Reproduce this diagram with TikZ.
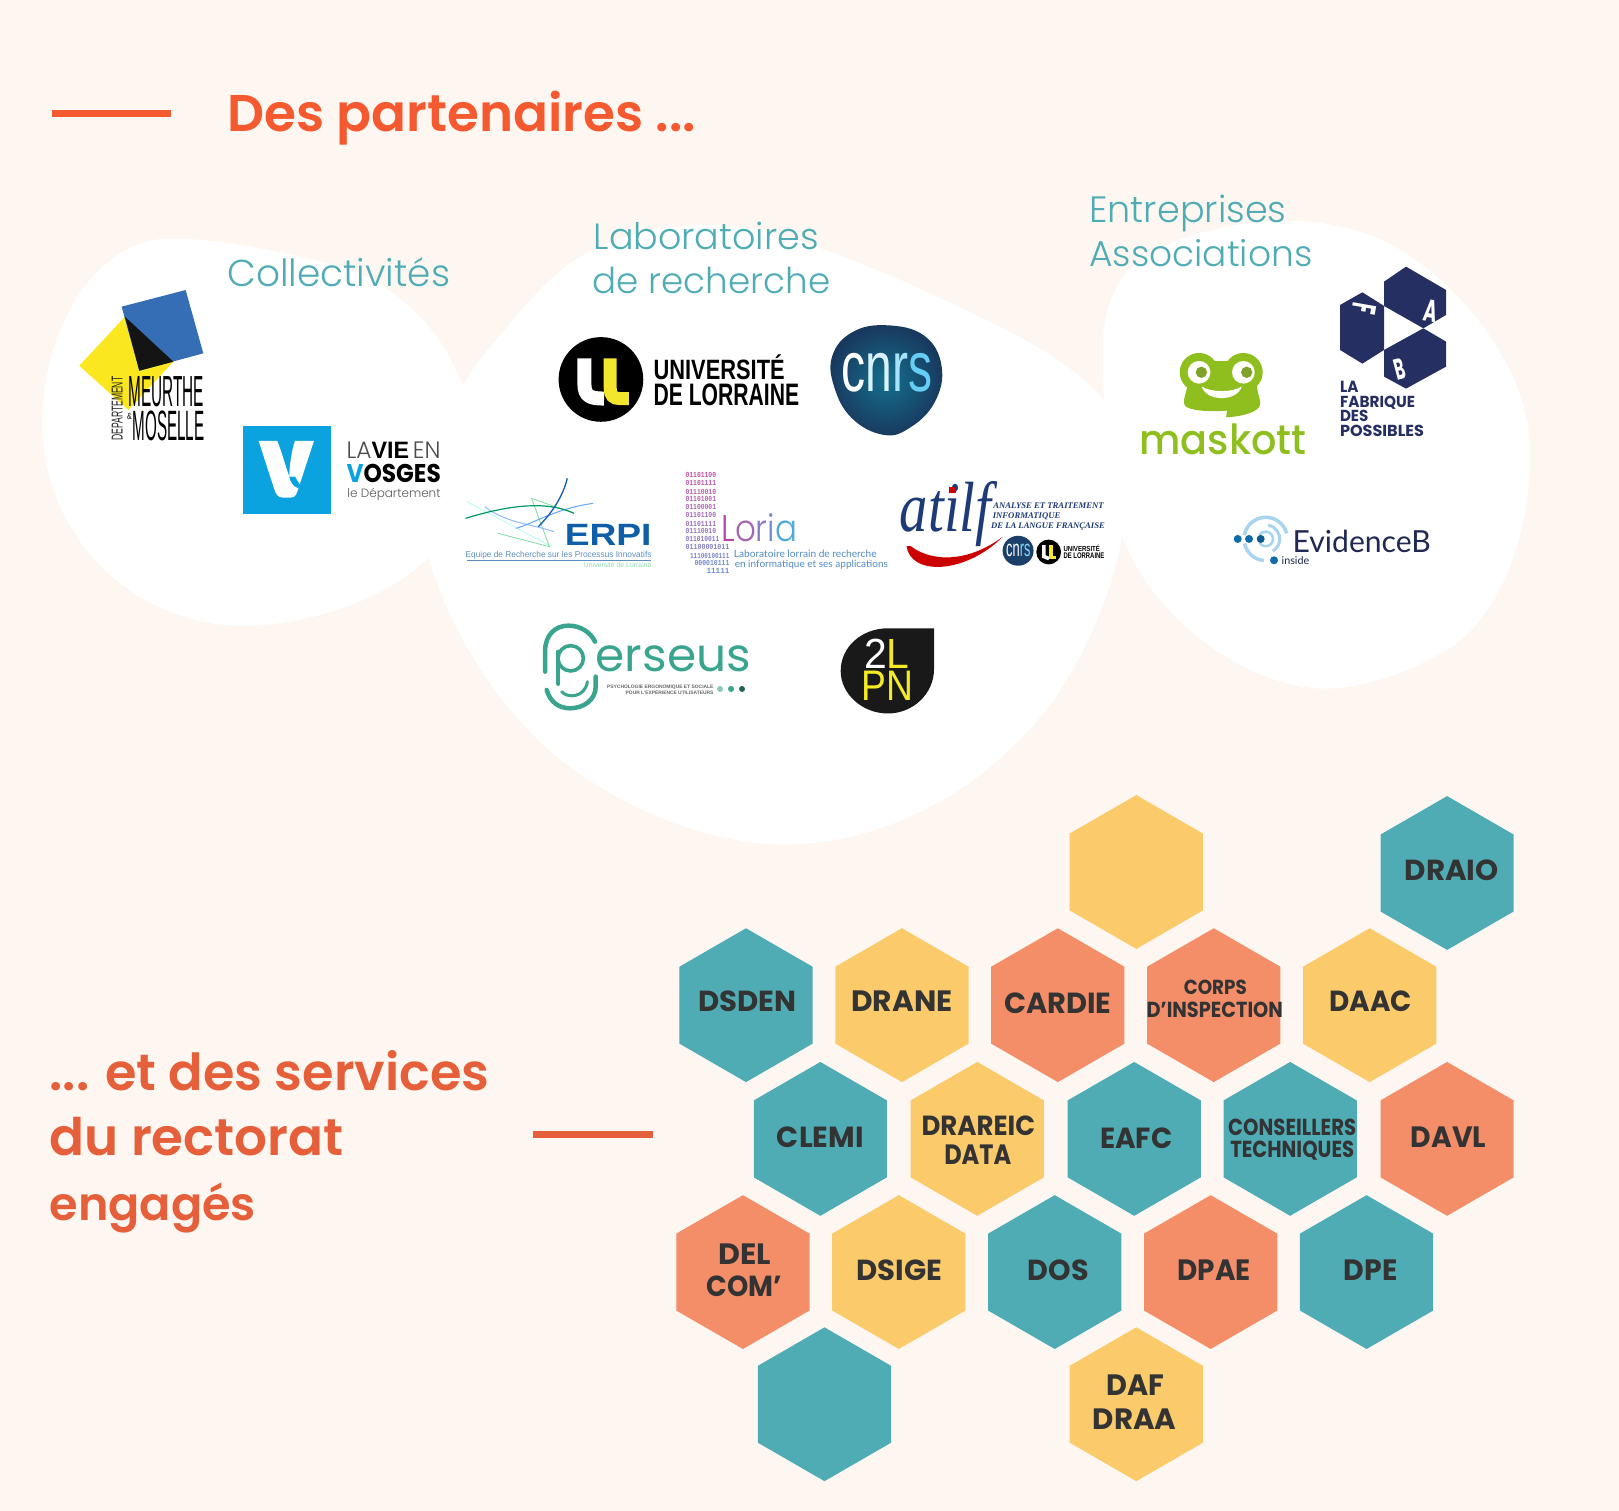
\documentclass[tikz,border=0pt]{standalone}
\usepackage{fontspec}
\usepackage{graphicx}
\setmainfont{Poppins}
\newfontfamily\plight{Poppins Light}
\newfontfamily\psemi{Poppins SemiBold}
\newfontfamily\pmed{Poppins Medium}
\newfontfamily\lib{Liberation Sans}
\newfontfamily\libserif{Liberation Serif}
\newfontfamily\libmono{Liberation Mono}
\newfontfamily\lato{Lato}
\definecolor{bgc}{HTML}{FEF7F1}
\definecolor{titlec}{HTML}{F4592F}
\definecolor{titled}{HTML}{E5603A}
\definecolor{tealc}{HTML}{4FACB5}
\definecolor{yelc}{HTML}{FBCB6B}
\definecolor{orac}{HTML}{F48E69}
\definecolor{darkc}{HTML}{333333}
\definecolor{labelc}{HTML}{4FACB5}
\definecolor{navyf}{HTML}{262F62}
\definecolor{maskg}{HTML}{8FBF1F}
\definecolor{maskd}{HTML}{7FA32A}
\definecolor{perc}{HTML}{3AA58F}
\definecolor{lorp}{HTML}{C5509F}
\definecolor{lorb}{HTML}{5A9AD8}
\definecolor{cnrsb}{HTML}{1B3F68}
\definecolor{ulyel}{HTML}{F2E62E}
\definecolor{vblue}{HTML}{0AA3E0}
\definecolor{atnavy}{HTML}{1E3A78}
\definecolor{evid}{HTML}{0E6CA8}
\definecolor{evlight}{HTML}{A8D4F0}
\definecolor{mmblue}{HTML}{356EB5}
\definecolor{mmyel}{HTML}{FBE720}
\definecolor{erpib}{HTML}{0F5FA8}
\definecolor{erpil}{HTML}{5B8FC4}
\newdimen\U \U=1.03253pt
% text fitted exactly in a box: name, x0, ytop, x1, baseline, colour, text
\newcommand\T[7]{\pgfmathsetmacro\Tw{#4-#2}\pgfmathsetmacro\Th{#5-#3}%
  \node[anchor=base west,inner sep=0pt,outer sep=0pt,text=#6] (#1) at (#2,#5) {\resizebox{\Tw\U}{\Th\U}{#7}};}
% text scaled uniformly to a width: name, x0, baseline, x1, colour, text
\newcommand\Tu[6]{\pgfmathsetmacro\Tw{#4-#2}%
  \node[anchor=base west,inner sep=0pt,outer sep=0pt,text=#5] (#1) at (#2,#3) {\resizebox{\Tw\U}{!}{#6}};}
\newcommand\Hx[3]{\fill[#3] (#1,#2-74.5)--(#1+64.5,#2-37.25)--(#1+64.5,#2+37.25)--(#1,#2+74.5)--(#1-64.5,#2+37.25)--(#1-64.5,#2-37.25)--cycle;}
\tikzset{
  hexteal/.style={fill=tealc}, hexyel/.style={fill=yelc}, hexora/.style={fill=orac},
  blob/.style={fill=white},
  rule/.style={draw=titled,line width=7pt},
}
\begin{document}
\begin{tikzpicture}[x=1.03253pt,y=-1.03253pt]
\useasboundingbox (0,0) rectangle (1568,1463.4);
\fill[bgc] (0,0) rectangle (1568,1463.4);
% blobs
\fill[blob] (165,231) .. controls (215,231) and (280,245) .. (330,258) .. controls (385,275) and (435,325) .. (452,385) .. controls (460,440) and (445,510) .. (415,540) .. controls (375,580) and (300,606) .. (235,606) .. controls (130,606) and (41,520) .. (41,410) .. controls (41,315) and (95,231) .. (165,231) -- cycle;
\fill[blob] (1071.8,390.6) .. controls (1085,430) and (1090,480) .. (1086,523) .. controls (1080,560) and (1060,620) .. (1020.4,678) .. controls (1000,705) and (985,720) .. (968.5,734) .. controls (920,780) and (840,818) .. (760,818) .. controls (690,818) and (600,785) .. (531,726) .. controls (480,680) and (435,610) .. (415,540) .. controls (405,490) and (425,420) .. (447,374) .. controls (460,355) and (470,340) .. (481,329) .. controls (505,300) and (525,275) .. (552,255) .. controls (575,240) and (595,232) .. (617,226) .. controls (640,220) and (665,218) .. (687.7,218) .. controls (725,219) and (760,226) .. (791,239) .. controls (820,250) and (845,260) .. (871.7,271) .. controls (905,286) and (935,300) .. (968.5,316.4) .. controls (1005,335) and (1045,358) .. (1071.8,390.6) -- cycle;
\fill[blob] (1243,213.7) .. controls (1280,214) and (1305,219) .. (1330,229) .. controls (1395,255) and (1482,345) .. (1482,439) .. controls (1482,530) and (1445,605) .. (1400.7,629.5) .. controls (1365,652) and (1320,667) .. (1280,667) .. controls (1215,665) and (1125,610) .. (1087.7,523) .. controls (1075,470) and (1068,400) .. (1068,339) .. controls (1068,300) and (1080,270) .. (1104,251.8) .. controls (1130,232) and (1190,214) .. (1243,213.7) -- cycle;
% titles
\coordinate (r1a) at (50,110); \coordinate (r1b) at (166,110);
\draw[rule,draw=titlec] (r1a) -- (r1b);
\coordinate (r2a) at (516,1098.5); \coordinate (r2b) at (632,1098.5);
\draw[rule] (r2a) -- (r2b);
\Tu{t1}{220}{127.5}{674}{titlec}{\psemi Des partenaires ...}
\Tu{t2}{48}{1056}{474}{titled}{\psemi ... et des services}
\Tu{t3}{48}{1119}{333}{titled}{\psemi du rectorat}
\Tu{t4}{48}{1182}{248}{titled}{\psemi engagés}
% category labels
\Tu{c1}{220}{277.3}{436}{labelc}{\plight Collectivités}
\Tu{c2}{575}{241.3}{793}{labelc}{\plight Laboratoires}
\Tu{c3}{574}{284.3}{804}{labelc}{\plight de recherche}
\Tu{c4}{1055}{215.3}{1246}{labelc}{\plight Entreprises}
\Tu{c5}{1055}{258.3}{1271}{labelc}{\plight Associations}
% Meurthe et Moselle
\fill[mmyel] (121,306.7)--(76.8,354.2)--(124.3,397.1)--(167.9,350.3)--cycle;
\fill[mmblue] (117.8,297)--(179.8,280.9)--(196.9,342.2)--(134.9,359)--cycle;
\fill[black!92] (121,306.7)--(134.9,359)--(167.9,350.3)--cycle;
\T{mm1}{124.3}{365}{197.5}{394}{black}{\lib MEURTHE}
\T{mm2}{128.5}{398.3}{198}{427}{black}{\lib MOSELLE}
\T{mm3}{123}{400}{127.5}{406}{black}{\lib \&}
\node[anchor=base west,inner sep=0pt,rotate=90,text=black!85] (mm4) at (118.8,427) {\resizebox{62\U}{10.5\U}{\lib DEPARTEMENT}};
% Vosges
\fill[vblue] (235,412.2) rectangle (320.2,497.8);
\begin{scope}[scale=0.3228,shift={(0,540)}]
\fill[white] (776,783)--(832,783) .. controls (850,830) and (860,870) .. (868,890) .. controls (868,860) and (875,810) .. (885,783)--(942,783)--(892,935) .. controls (888,948) and (882,953) .. (870,953)--(850,953) .. controls (835,953) and (828,945) .. (822,925)--cycle;
\fill[vblue] (868,890) .. controls (870,905) and (880,920) .. (895,925)--(900,915)--(885,890)--cycle;
\end{scope}
\T{vg1}{335.7}{427.7}{426.7}{443.8}{black}{\lib{\plight\color{black!70}LA}{\bfseries VIE}\,{\plight\color{black!70}EN}}
\T{vg2}{335.7}{449.3}{427}{467}{black}{\bfseries\textcolor{vblue}{V}OSGES}
\Tu{vg3}{336.4}{481.9}{426.7}{black!65}{\plight le Département}
% Universite de Lorraine
\fill[black] (582,367.5) ellipse (41 and 41);
\draw[white,line width=14pt] (566,347) -- (566,372) .. controls (566,384) and (572,386) .. (585,386);
\draw[ulyel,line width=13pt] (591,347) -- (591,376) .. controls (591,383) and (594,386) .. (600,386) -- (609,386);
\T{ul1}{633}{344}{760}{368}{black}{\lib\bfseries UNIVERSITÉ}
\T{ul2}{633}{372}{774}{393}{black}{\lib\bfseries DE LORRAINE}
% CNRS
\shade[inner color=cnrsb!75!cyan,outer color=cnrsb!90!black] plot[smooth cycle,tension=0.7] coordinates {(858,315)(895,325)(912,355)(905,390)(880,415)(855,421)(825,405)(808,375)(806,345)(825,322)};
\T{cnrs}{815}{342}{903}{379}{white}{\lib c\textcolor{cyan!15}{n}\textcolor{cyan!35}{r}\textcolor{cyan!60}{s}}
% ERPI
\begin{scope}[shift={(426.2,290.6)},x=0.4464pt,y=-0.3333pt]
\draw[green!25!cyan!30,line width=0.8pt] (60,605) -- (250,740);
\draw[green!45!teal!50,line width=0.8pt] (205,595) -- (245,740) -- (130,700)  ;
\draw[green!45!teal!50,line width=0.8pt] (205,595) -- (300,640);
\draw[blue!60!cyan!45,line width=1pt] (100,620) .. controls (150,670) and (200,670) .. (255,695);
\draw[blue!60!cyan!60,line width=1pt] (343,610) .. controls (260,625) and (210,670) .. (170,685);
\draw[teal!80!green,line width=1.2pt] (57,655) .. controls (130,625) and (230,595) .. (300,640);
\draw[erpib,line width=1.3pt] (285,535) .. controls (275,590) and (250,640) .. (220,680);
\draw[erpil,line width=1pt] (60,780) -- (472,780);
\end{scope}
\T{erpi1}{547}{507.5}{631}{528}{erpib}{\lib\bfseries ERPI}
\T{erpi2}{451}{534}{631}{540}{erpil}{\lib Equipe de Recherche sur les Processus Innovatifs}
\Tu{erpi3}{565.5}{550}{631}{green!40!teal!45}{\lib Université de Lorraine}
% Loria
\foreach \i/\yy/\xa/\xb/\pct/\s in {1/460.4/664/693.5/100/01101100,2/468/664/693.5/93/01101111,3/476/664/693.5/86/01110010,4/483.6/664/693.5/79/01101001,5/491.4/664/693.5/72/01100001,6/499/664/693.5/65/01101100,7/507/664/693.5/58/01101111,8/514.6/664/693.5/51/01110010,9/522.4/664/696.6/44/011010011,10/530/664/706.4/37/01100001011,11/538/668.4/706.4/30/11100100111,12/545.6/672.7/706.4/23/000010111,13/553/684.3/706.4/16/11111}{
  \pgfmathsetmacro\ya{\yy-2.5}\pgfmathsetmacro\yb{\yy+2.5}
  \T{bit\i}{\xa}{\ya}{\xb}{\yb}{lorp!\pct!lorb}{\libmono\bfseries\s}
}
\T{loria}{698.6}{497}{772}{524}{black}{\plight\textcolor{lorp!90!blue}{L}\textcolor{lorp!70!lorb}{o}\textcolor{lorp!45!lorb}{r}\textcolor{lorp!20!lorb}{i}\textcolor{lorb!85!cyan}{a}}
\Tu{lor1}{710.7}{539.8}{849}{lorb!90!black}{\lato Laboratoire lorrain de recherche}
\Tu{lor2}{711.6}{549.5}{860}{lorb!90!black}{\lato en informatique et ses applications}
% ATILF
\T{atilf}{871.6}{466.5}{960}{515}{atnavy}{\libserif\itshape atilf}
\fill[red!80!black] (919.5,471.5) rectangle (926,477.5);
\fill[red!80!black] (878,529) .. controls (882,558) and (935,556) .. (971,520) .. controls (940,543) and (905,546) .. (882,529) -- cycle;
\Tu{at1}{962}{492.4}{1069}{atnavy}{\libserif\itshape\bfseries ANALYSE ET TRAITEMENT}
\Tu{at2}{961.5}{502}{1027}{atnavy}{\libserif\itshape\bfseries INFORMATIQUE}
\Tu{at3}{960}{511.4}{1070}{atnavy}{\libserif\itshape\bfseries DE LA LANGUE FRANÇAISE}
\fill[cnrsb] (986,533.4) ellipse (15 and 14.5);
\T{at4}{974.5}{527}{998}{539}{white}{\lib cn\textcolor{cyan!50}{rs}}
\fill[black] (1015.6,534.6) ellipse (12 and 12);
\draw[white,line width=3.6pt] (1011,528) -- (1011,539) -- (1016,541);
\draw[ulyel,line width=3.6pt] (1018,528) -- (1018,540) -- (1023,540);
\T{at5}{1030}{528}{1065.3}{534.3}{black}{\lib\bfseries UNIVERSITÉ}
\T{at6}{1030}{535.5}{1069.6}{541}{black}{\lib\bfseries DE LORRAINE}
% Perseus
\begin{scope}[shift={(484.3,561.7)},scale=0.3228]
\draw[perc,line width=4.5pt,line cap=round] (135,275) -- (135,215) .. controls (135,165) and (165,137) .. (205,137) .. controls (240,137) and (270,155) .. (285,185);
\draw[perc,line width=4.5pt,line cap=round] (287,290) -- (287,320) .. controls (287,360) and (250,385) .. (210,385) .. controls (175,385) and (150,365) .. (140,330);
\draw[perc,line width=3pt,line cap=round] (185,335) .. controls (200,355) and (255,355) .. (262,305);
\draw[perc,line width=4pt,line cap=round] (175,215) -- (175,312);
\draw[perc,line width=3.6pt] (212,235) circle (38);
\fill[perc!60] (660,327) circle (9);
\fill[perc] (693,327) circle (9);
\fill[perc!60!black] (726,327) circle (9);
\end{scope}
\T{per1}{577}{625}{727.4}{650}{perc}{erseus}
\Tu{per2}{588}{667}{691}{black!60}{\lib\bfseries PSYCHOLOGIE ERGONOMIQUE ET SOCIALE}
\Tu{per3}{606}{672.5}{691}{black!60}{\lib\bfseries POUR L’EXPÉRIENCE UTILISATEURS}
% 2LPN
\fill[black!90] (904.6,608.5) -- (904.6,648) .. controls (904.6,672) and (884,691) .. (860,691) .. controls (835,691) and (814.2,672) .. (814.2,650) .. controls (814.2,626) and (835,608.5) .. (860,608.5) -- cycle;
\T{lp1}{837}{619}{881}{647.5}{ulyel!80!yellow}{\lib\textcolor{white}{2}L}
\T{lp2}{834.5}{650}{884.6}{678.5}{ulyel!80!yellow}{\lib PN}
% Maskott
\begin{scope}[shift={(1065.4,242.1)},scale=0.3228]
\fill[maskg] (297,367) circle (58);
\fill[maskg] (430,367) circle (58);
\fill[maskg] (297,332) rectangle (430,420);
\fill[maskg] (262,400) -- (470,400) .. controls (472,440) and (487,455) .. (478,470) .. controls (465,490) and (420,500) .. (378,502) -- (381,482) .. controls (340,485) and (290,485) .. (260,472) .. controls (240,458) and (262,430) .. (262,400) -- cycle;
\fill[white] (297,367) circle (34); \fill[white] (430,367) circle (34);
\fill[maskd] (304,367) circle (17); \fill[maskd] (440,367) circle (17);
\fill[white] (305,410) .. controls (335,428) and (395,428) .. (425,410) .. controls (410,456) and (320,456) .. (305,410) -- cycle;
\end{scope}
\T{mask}{1103.5}{410}{1265}{439.7}{maskg}{\pmed maskott}
% Fabrique des possibles
\begin{scope}[shift={(1065.4,242.1)},scale=0.3228]
\fill[navyf] (852,95)--(918,50)--(1038,120)--(1038,195)--(970,235)--(852,168)--cycle;
\fill[navyf] (720,165)--(787,127)--(852,168)--(852,300)--(787,341)--(720,300)--cycle;
\fill[navyf] (852,300)--(970,235)--(1038,275)--(1038,350)--(918,416)--(852,380)--cycle;
\end{scope}
\node[text=white,inner sep=0pt,rotate=-100] (fabf) at (1321,298.5) {\resizebox{10\U}{23\U}{\bfseries F}};
\node[text=white,inner sep=0pt,rotate=-10] (faba) at (1385.5,301) {\resizebox{13\U}{21\U}{\bfseries A}};
\node[text=white,inner sep=0pt,rotate=15] (fabb) at (1356,358) {\resizebox{10\U}{20\U}{\bfseries B}};
\T{fab1}{1297.8}{369}{1315.6}{380}{navyf}{\bfseries LA}
\T{fab2}{1297.8}{383.5}{1370.5}{394.5}{navyf}{\bfseries FABRIQUE}
\T{fab3}{1297.8}{397.7}{1325.3}{408.7}{navyf}{\bfseries DES}
\T{fab4}{1297.8}{412.2}{1379.2}{423.2}{navyf}{\bfseries POSSIBLES}
% EvidenceB
\begin{scope}[shift={(1065.4,242.1)},scale=0.3228]
\draw[evlight,line width=3.5pt] ([shift={(-170:65)}]497,867) arc[start angle=-170,end angle=-15,radius=65];
\draw[evlight,line width=3.5pt] ([shift={(95:65)}]497,867) arc[start angle=95,end angle=168,radius=65];
\draw[evlight,line width=3pt] ([shift={(-80:42)}]497,867) arc[start angle=-80,end angle=60,radius=42];
\draw[evlight,line width=2.5pt] ([shift={(-150:22)}]497,867) arc[start angle=-150,end angle=150,radius=22];
\fill[evid] (413,867) circle (12);
\fill[evid] (447,867) circle (12);
\fill[evid!85!black] (482,867) circle (12);
\fill[evid] (522,931) circle (12);
\end{scope}
\T{ev1}{1252}{513.3}{1385.6}{535}{navyf!85!black}{\lato EvidenceB}
\Tu{ev2}{1241.3}{547}{1268}{navyf!85!black}{\lato inside}
% hexagons
\begin{scope}[shift={(0,0.5)}]
\Hx{1100.5}{844}{hexyel}
\Hx{1401.5}{845}{hexteal}
\Hx{722.5}{973}{hexteal}
\Hx{873.5}{973}{hexyel}
\Hx{1024.5}{973}{hexora}
\Hx{1175.5}{973}{hexora}
\Hx{1326.5}{973}{hexyel}
\Hx{794.5}{1102.5}{hexteal}
\Hx{946.5}{1102.5}{hexyel}
\Hx{1098.5}{1102.5}{hexteal}
\Hx{1249.5}{1102.5}{hexteal}
\Hx{1401.5}{1102.5}{hexora}
\Hx{719.5}{1231.5}{hexora}
\Hx{870.5}{1231.5}{hexyel}
\Hx{1021.5}{1231.5}{hexteal}
\Hx{1172.5}{1231.5}{hexora}
\Hx{1323.5}{1231.5}{hexteal}
\Hx{798.5}{1359.5}{hexteal}
\Hx{1100.5}{1359.5}{hexyel}
\end{scope}
% hexagon labels
\begin{scope}[shift={(0.5,1)}]
\T{draio}{1360}{832}{1451}{852}{darkc}{\bfseries DRAIO}
\T{dsden}{676}{959}{771}{979}{darkc}{\bfseries DSDEN}
\T{drane}{824}{959}{922}{979}{darkc}{\bfseries DRANE}
\T{cardie}{972}{961}{1076}{981}{darkc}{\bfseries CARDIE}
\T{corps}{1146}{948}{1207}{962}{darkc}{\bfseries CORPS}
\T{dinsp}{1110}{969}{1242}{984}{darkc}{\bfseries D’INSPECTION}
\T{daac}{1287}{959}{1367}{979}{darkc}{\bfseries DAAC}
\T{clemi}{752}{1090}{836}{1110}{darkc}{\bfseries CLEMI}
\T{drareic}{892}{1080}{1002}{1099}{darkc}{\bfseries DRAREIC}
\T{data}{914}{1108}{979}{1127}{darkc}{\bfseries DATA}
\T{eafc}{1065}{1091}{1135}{1111}{darkc}{\bfseries EAFC}
\T{conseil}{1189}{1083}{1313}{1099}{darkc}{\bfseries CONSEILLERS}
\T{techn}{1191}{1104}{1311}{1120}{darkc}{\bfseries TECHNIQUES}
\T{davl}{1366}{1090}{1439}{1110}{darkc}{\bfseries DAVL}
\T{del}{695}{1204}{746}{1224}{darkc}{\bfseries DEL}
\T{com}{684}{1235}{757}{1255}{darkc}{\bfseries COM’}
\T{dsige}{829}{1219}{912}{1239}{darkc}{\bfseries DSIGE}
\T{dos}{995}{1219}{1054}{1239}{darkc}{\bfseries DOS}
\T{dpae}{1140}{1219}{1211}{1239}{darkc}{\bfseries DPAE}
\T{dpe}{1301}{1219}{1353}{1239}{darkc}{\bfseries DPE}
\T{daf}{1071}{1331}{1127}{1351}{darkc}{\bfseries DAF}
\T{draa}{1058}{1363}{1139}{1383}{darkc}{\bfseries DRAA}
\end{scope}
\end{tikzpicture}
\end{document}
